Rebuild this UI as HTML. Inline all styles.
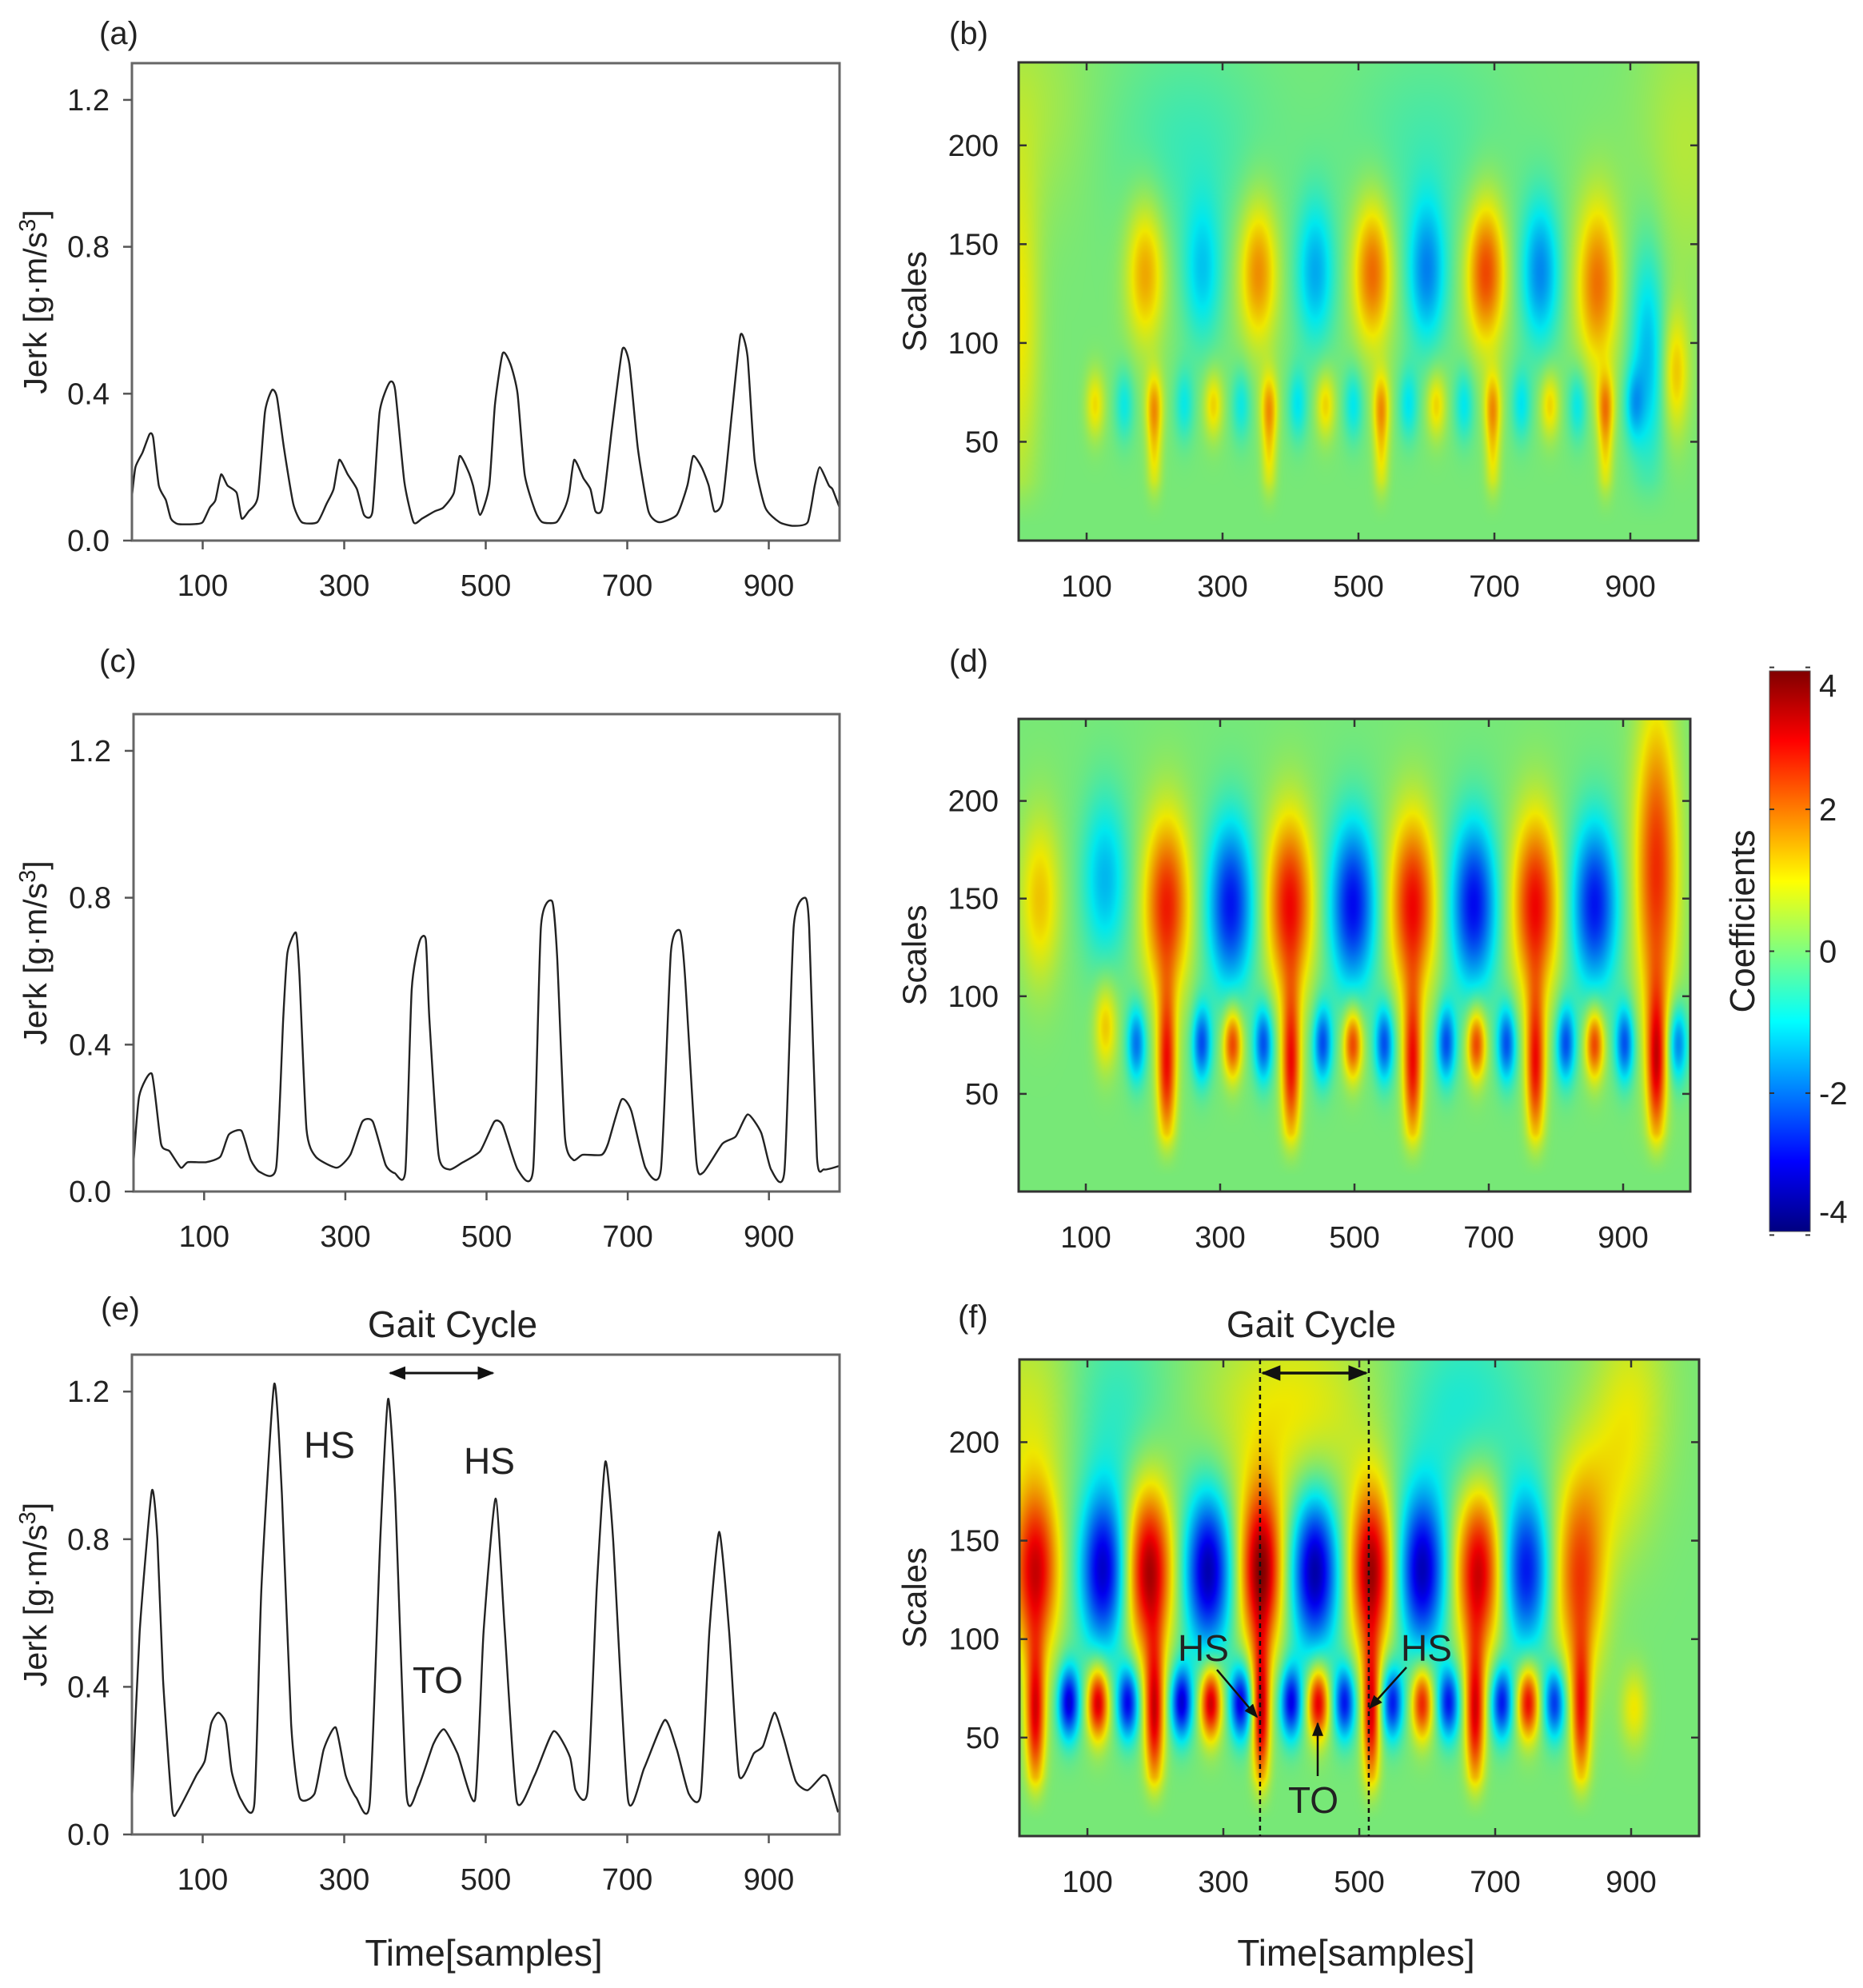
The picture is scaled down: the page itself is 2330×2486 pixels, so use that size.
<!DOCTYPE html>
<html><head><meta charset="utf-8">
<style>
html,body{margin:0;padding:0;background:#fff;}
#wrap{position:relative;width:2330px;height:2486px;overflow:hidden;font-family:"Liberation Sans",Arial,sans-serif;}
canvas{position:absolute;}
svg{position:absolute;left:0;top:0;}
text{font-family:"Liberation Sans",Arial,sans-serif;fill:#222;}
</style></head>
<body>
<div id="wrap">
<canvas id="cb" width="850" height="600" style="left:1274px;top:78px;width:850px;height:598px"></canvas>
<canvas id="cd" width="840" height="591" style="left:1274px;top:899px;width:840px;height:591px"></canvas>
<canvas id="cf" width="850" height="596" style="left:1275px;top:1700px;width:850px;height:596px"></canvas>
<svg id="s" width="2330" height="2486" viewBox="0 0 2330 2486">
<defs>
<linearGradient id="jet" x1="0" y1="1" x2="0" y2="0">
<stop offset="0" stop-color="#000080"/><stop offset="0.125" stop-color="#0000ff"/>
<stop offset="0.375" stop-color="#00ffff"/><stop offset="0.625" stop-color="#ffff00"/>
<stop offset="0.875" stop-color="#ff0000"/><stop offset="1" stop-color="#800000"/>
</linearGradient>
<marker id="ah" viewBox="0 0 10 10" refX="9" refY="5" markerWidth="7" markerHeight="7" orient="auto-start-reverse"><path d="M0,1 L10,5 L0,9 z" fill="#111"/></marker>
</defs>
</svg>
</div>
<script>
// ---------- line series data ----------
const aT=[0,5,15,25,30,38,48,55,65,90,100,110,118,126,135,148,155,165,178,188,198,205,215,228,240,262,275,285,293,305,318,328,340,350,364,372,385,398,410,428,440,455,463,475,482,492,505,513,524,535,545,555,570,580,600,612,618,625,638,648,655,665,678,693,703,715,730,745,770,785,793,805,815,823,835,848,860,870,880,895,915,935,955,965,972,985,990,1000];
const aV=[0.12,0.2,0.24,0.29,0.28,0.15,0.11,0.06,0.045,0.045,0.05,0.09,0.11,0.18,0.15,0.13,0.06,0.08,0.12,0.35,0.41,0.39,0.25,0.1,0.05,0.05,0.1,0.14,0.22,0.18,0.14,0.07,0.08,0.35,0.43,0.41,0.16,0.05,0.06,0.08,0.09,0.13,0.23,0.19,0.15,0.07,0.15,0.37,0.51,0.48,0.4,0.18,0.08,0.05,0.05,0.09,0.13,0.22,0.17,0.14,0.08,0.09,0.3,0.52,0.48,0.25,0.08,0.05,0.07,0.15,0.23,0.2,0.15,0.08,0.11,0.35,0.56,0.5,0.22,0.09,0.05,0.04,0.05,0.15,0.2,0.15,0.14,0.09];
const cT=[0,8,26,39,51,67,77,103,123,135,153,166,179,202,212,218,230,235,245,258,288,307,324,339,357,370,385,394,405,414,419,432,447,465,491,511,523,544,566,577,593,600,611,623,636,663,672,691,705,725,747,761,774,781,797,807,834,853,870,889,903,922,935,951,957,968,978,1000];
const cV=[0.08,0.26,0.32,0.13,0.11,0.065,0.08,0.08,0.095,0.155,0.165,0.086,0.053,0.065,0.47,0.65,0.705,0.59,0.17,0.095,0.065,0.1,0.19,0.19,0.073,0.05,0.056,0.55,0.68,0.685,0.47,0.1,0.06,0.078,0.11,0.19,0.18,0.06,0.06,0.72,0.79,0.64,0.15,0.086,0.1,0.1,0.13,0.25,0.22,0.065,0.06,0.65,0.71,0.59,0.086,0.052,0.13,0.15,0.21,0.16,0.06,0.056,0.72,0.8,0.72,0.095,0.06,0.07];
const eT=[0,11,28,36,44,57,65,91,103,112,122,133,141,154,173,183,201,212,225,237,258,271,288,302,317,336,351,362,372,388,405,426,441,460,485,497,514,527,544,569,596,619,627,644,657,669,680,701,724,753,770,787,804,816,830,844,858,879,892,908,921,938,955,976,984,998];
const eV=[0.095,0.55,0.93,0.8,0.42,0.07,0.064,0.16,0.2,0.3,0.33,0.3,0.17,0.095,0.083,0.67,1.22,0.92,0.3,0.1,0.11,0.23,0.29,0.16,0.1,0.085,0.8,1.18,0.92,0.11,0.13,0.245,0.285,0.22,0.095,0.55,0.91,0.55,0.089,0.16,0.28,0.21,0.12,0.12,0.67,1.01,0.8,0.095,0.18,0.31,0.23,0.11,0.11,0.55,0.82,0.55,0.16,0.22,0.24,0.33,0.26,0.145,0.12,0.16,0.15,0.06];
const yTicks=[0.0,0.4,0.8,1.2];
const yTickLabels=["0.0","0.4","0.8","1.2"];
const xTicks=[100,300,500,700,900];
const sTicks=[50,100,150,200];
const cbTicks=[4,2,0,-2,-4];
// ---------- scalogram blob data (time, scale, coefficient, time-spread, scale-spread) ----------
const bT=[186,352,520,687,851,270,436,600,767,925, 112,199,286,368,451,533,614,697,781,863,966, 155,243,327,410,492,573,655,739,822,905, 199,368,533,697,863, 0,250,600,20,980];
const bS=[136,136,136,136,130,136,136,136,136,95, 69,69,69,69,69,69,69,69,69,69,85, 69,69,69,69,69,69,69,69,69,69, 45,45,45,45,45, 110,200,200,220,200];
const bA=[1.6,1.8,2.1,2.4,2.0,-1.2,-1.5,-1.8,-1.8,-1.4, 1.1,1.3,1.2,1.3,1.2,1.3,1.2,1.3,1.2,1.4,1.3, -0.9,-0.9,-0.9,-1.0,-1.0,-1.0,-1.0,-1.0,-1.0,-1.1, 1.0,1.0,1.0,1.0,1.0, 1.0,-0.5,-0.4,0.4,0.5];
const bWt=[20,20,20,20,22,20,20,20,20,18, 10,9,10,9,10,9,10,9,10,9,14, 10,10,10,10,10,10,10,10,10,10, 8,8,8,8,8, 22,80,80,60,50];
const bWs=[26,26,26,26,30,26,26,26,26,40, 12,12,12,12,12,12,12,12,12,12,22, 13,13,13,13,13,13,13,13,13,13, 18,18,18,18,18, 60,35,35,40,50];

const dT=[31,128,220,315,403,497,586,677,769,857,949, 129,175,272,318,364,452,497,544,636,681,726,814,857,902,981, 220,405,586,769,949];
const dS=[150,160,147,147,147,147,147,147,147,147,165, 85,76,76,76,76,76,76,76,76,76,76,76,76,76,76, 65,65,65,65,65];
const dA=[1.3,-1.4,2.7,-2.8,2.9,-2.9,2.9,-2.9,2.9,-2.8,2.6, 1.3,-2.0,-2.3,2.5,-2.3,-2.3,2.5,-2.3,-2.3,2.5,-2.3,-2.3,2.5,-2.3,-2.0, 2.8,2.8,2.8,2.8,2.8];
const dWt=[22,24,24,24,24,24,24,24,24,24,22, 12,10,10,10,10,10,10,10,10,10,10,10,10,10,10, 10,10,10,10,10];
const dWs=[30,30,32,30,32,30,32,30,32,30,55, 16,14,14,13,14,14,13,14,14,13,14,14,13,14,14, 28,28,28,28,28];

const fT=[23,123,190,277,355,434,517,592,675,745,823, 72,115,159,238,281,325,399,439,478,548,592,631,709,748,787,904, 23,198,355,517,670,826, 20,130,400,650,860,900];
const fS=[135,135,135,135,135,135,135,135,135,135,130, 68,68,68,68,68,68,68,68,68,68,68,68,68,68,68,65, 62,62,62,62,62,62, 215,215,215,215,175,220];
const fA=[3.2,-3.3,3.6,-3.5,3.8,-3.6,3.6,-3.4,3.3,-2.8,2.3, -3.2,3.3,-3.0,-3.2,3.4,-3.2,-3.0,3.2,-2.8,-2.8,2.8,-2.8,-2.8,3.0,-2.6,1.0, 3.0,3.1,3.2,3.0,3.0,2.5, 0.8,-0.7,1.0,-0.8,0.7,0.8];
const fWt=[24,24,24,24,22,24,22,24,24,24,26, 11,11,11,11,11,11,11,11,11,11,11,11,11,11,11,14, 10,10,9,9,10,10, 60,60,90,70,40,40];
const fWs=[30,28,30,28,30,28,30,28,30,28,35, 13,13,13,13,13,13,13,13,13,13,13,13,13,13,13,14, 26,26,26,26,26,26, 35,35,35,35,30,35];

const VMAX=3.95;
const NS="http://www.w3.org/2000/svg";
const svg=document.getElementById('s');

function el(tag,attrs,parent){const e=document.createElementNS(NS,tag);for(const k in attrs)e.setAttribute(k,attrs[k]);(parent||svg).appendChild(e);return e;}
function txt(x,y,s,size,anchor,parent,rot){const t=el('text',{x:x,y:y,'font-size':size,'text-anchor':anchor||'middle'},parent);if(rot)t.setAttribute('transform','rotate(-90 '+x+' '+y+')');t.textContent=s;return t;}

function jet(x){x=Math.max(0,Math.min(1,x));const c=v=>Math.max(0,Math.min(1,v));return [c(1.5-Math.abs(4*x-3)),c(1.5-Math.abs(4*x-2)),c(1.5-Math.abs(4*x-1))];}

function renderHeat(id,T,S,A,WT,WS){
  const cv=document.getElementById(id),ctx=cv.getContext('2d');
  const W=cv.width,H=cv.height,img=ctx.createImageData(W,H),d=img.data;
  const smax=242;
  for(let py=0;py<H;py++){
    const sc=smax*(1-py/H);
    const fade=Math.min(1,Math.max(0,(sc-8)/22));
    for(let px=0;px<W;px++){
      const t=1000*px/W;let v=0;
      for(let k=0;k<T.length;k++){const dt=(t-T[k])/WT[k];if(dt>3.5||dt<-3.5)continue;const ds=(sc-S[k])/WS[k];if(ds>3.5||ds<-3.5)continue;v+=A[k]*Math.exp(-0.5*(dt*dt+ds*ds));}
      v*=fade;
      const c=jet((v+VMAX)/(2*VMAX));const i=(py*W+px)*4;
      d[i]=c[0]*238;d[i+1]=c[1]*232;d[i+2]=c[2]*238;d[i+3]=255;
    }
  }
  ctx.putImageData(img,0,0);
}

function smoothPath(xs,ys){
  let d='M'+xs[0].toFixed(1)+','+ys[0].toFixed(1);
  for(let i=0;i<xs.length-1;i++){
    const x0=xs[Math.max(0,i-1)],y0=ys[Math.max(0,i-1)],x1=xs[i],y1=ys[i],x2=xs[i+1],y2=ys[i+1],x3=xs[Math.min(xs.length-1,i+2)],y3=ys[Math.min(xs.length-1,i+2)];
    const k=0.1;
    d+='C'+(x1+(x2-x0)*k).toFixed(1)+','+(y1+(y2-y0)*k).toFixed(1)+' '+(x2-(x3-x1)*k).toFixed(1)+','+(y2-(y3-y1)*k).toFixed(1)+' '+x2.toFixed(1)+','+y2.toFixed(1);
  }
  return d;
}

function linePanel(name,P,T,V,label,lx,ly){
  const g=el('g',{});
  
  
  const X=t=>P.x+P.w*t/1000, Y=v=>P.y+P.h*(1-v/1.3);
  const p=el('path',{d:smoothPath(T.map(X),V.map(Y)),fill:'none',stroke:'#222','stroke-width':2.4,'stroke-linejoin':'round'},g);
  
  
  const r=el('rect',{x:P.x,y:P.y,width:P.w,height:P.h,fill:'none',stroke:'#666','stroke-width':3},g);
  
  
  yTicks.forEach((v,i)=>{el('line',{x1:P.x-11,x2:P.x,y1:Y(v),y2:Y(v),stroke:'#555','stroke-width':2.5},g);
    const t=txt(P.x-28,Y(v)+13,yTickLabels[i],38,'end',g);
    
    });
  xTicks.forEach(v=>{el('line',{x1:X(v),x2:X(v),y1:P.y+P.h,y2:P.y+P.h+11,stroke:'#555','stroke-width':2.5},g);
    const t=txt(X(v),P.y+P.h+69,String(v),38,'middle',g);
    
    });
  const yt=el('text',{x:58,y:P.y+P.h/2,'font-size':41,'text-anchor':'middle',transform:'rotate(-90 58 '+(P.y+P.h/2)+')'},g);
  yt.innerHTML='Jerk [g·m/s<tspan dy="-14" font-size="29">3</tspan><tspan dy="14">]</tspan>';
  
  
  const pl=txt(lx,ly,label,40,'start',g);
  
  
  return {X,Y,g};
}

function heatPanel(name,P,label,lx,ly){
  const g=el('g',{});
  
  
  const X=t=>P.x+P.w*t/1000, Y=s=>P.y+P.h*(1-s/242);
  const r=el('rect',{x:P.x,y:P.y,width:P.w,height:P.h,fill:'none',stroke:'#333','stroke-width':3},g);
  
  
  sTicks.forEach(v=>{el('line',{x1:P.x,x2:P.x+10,y1:Y(v),y2:Y(v),stroke:'#333','stroke-width':2.5},g);
    el('line',{x1:P.x+P.w-10,x2:P.x+P.w,y1:Y(v),y2:Y(v),stroke:'#333','stroke-width':2.5},g);
    const t=txt(P.x-25,Y(v)+13,String(v),38,'end',g);
    
    });
  xTicks.forEach(v=>{el('line',{x1:X(v),x2:X(v),y1:P.y+P.h-10,y2:P.y+P.h,stroke:'#333','stroke-width':2.5},g);
    el('line',{x1:X(v),x2:X(v),y1:P.y,y2:P.y+10,stroke:'#333','stroke-width':2.5},g);
    const t=txt(X(v),P.y+P.h+70,String(v),38,'middle',g);
    
    });
  const yt=txt(1158,P.y+P.h/2,'Scales',42,'middle',g,true);
  
  
  const pl=txt(lx,ly,label,40,'start',g);
  
  
  return {X,Y,g};
}

const PA={x:165,y:79,w:885,h:597},PC={x:167,y:893,w:883,h:597},PE={x:165,y:1694,w:885,h:600};
const PB={x:1274,y:78,w:850,h:598},PD={x:1274,y:899,w:840,h:591},PF={x:1275,y:1700,w:850,h:596};

renderHeat('cb',bT,bS,bA,bWt,bWs);
renderHeat('cd',dT,dS,dA,dWt,dWs);
renderHeat('cf',fT,fS,fA,fWt,fWs);

linePanel('panel-a',PA,aT,aV,'(a)',124,55);
linePanel('panel-c',PC,cT,cV,'(c)',124,840);
const E=linePanel('panel-e',PE,eT,eV,'(e)',126,1650);
heatPanel('panel-b',PB,'(b)',1187,55);
heatPanel('panel-d',PD,'(d)',1187,840);
const F=heatPanel('panel-f',PF,'(f)',1198,1660);

let t;
t=txt(605,2458,'Time[samples]',46,'middle');


t=txt(1696,2458,'Time[samples]',46,'middle');



t=txt(566,1672,'Gait Cycle',46,'middle');


let a=el('line',{x1:E.X(365),x2:E.X(510),y1:1717,y2:1717,stroke:'#111','stroke-width':3,'marker-start':'url(#ah)','marker-end':'url(#ah)'});


[['HS',380,1823],['HS',580,1843],['TO',516,2117]].forEach(q=>{t=txt(q[1],q[2],q[0],46,'start');
  
  });

t=txt(1640,1672,'Gait Cycle',46,'middle');


[354,514].forEach(v=>{const l=el('line',{x1:F.X(v),x2:F.X(v),y1:PF.y,y2:PF.y+PF.h,stroke:'#111','stroke-width':2.5,'stroke-dasharray':'6,5'});
  
  });
a=el('line',{x1:F.X(358),x2:F.X(510),y1:1717,y2:1717,stroke:'#111','stroke-width':3.5,'marker-start':'url(#ah)','marker-end':'url(#ah)'});


[['HS',1473,2077],['HS',1752,2077],['TO',1611,2267]].forEach(q=>{t=txt(q[1],q[2],q[0],46,'start');
  
  });
[[1522,2088,1572,2147],[1759,2085,1713,2136],[1648,2221,1648,2155]].forEach(q=>{const l=el('line',{x1:q[0],y1:q[1],x2:q[2],y2:q[3],stroke:'#111','stroke-width':2.5,'marker-end':'url(#ah)'});
  
  });

const CB={x:2213,y:839,w:51,h:701};
const cbY=v=>CB.y+CB.h*(VMAX-v)/(2*VMAX);
let r=el('rect',{x:CB.x,y:CB.y,width:CB.w,height:CB.h,fill:'url(#jet)',stroke:'#555','stroke-width':1});


cbTicks.forEach(v=>{const yy=Math.min(Math.max(cbY(v),CB.y+18),CB.y+CB.h-25);
  el('line',{x1:CB.x,x2:CB.x+6,y1:cbY(v),y2:cbY(v),stroke:'#333','stroke-width':2});
  el('line',{x1:CB.x+CB.w-6,x2:CB.x+CB.w,y1:cbY(v),y2:cbY(v),stroke:'#333','stroke-width':2});
  t=txt(2275,yy+14,v<0?'-'+Math.abs(v):String(v),40,'start');
  
  });
t=txt(2194,1152,'Coefficients',44,'middle',null,true);


</script>
</body></html>
